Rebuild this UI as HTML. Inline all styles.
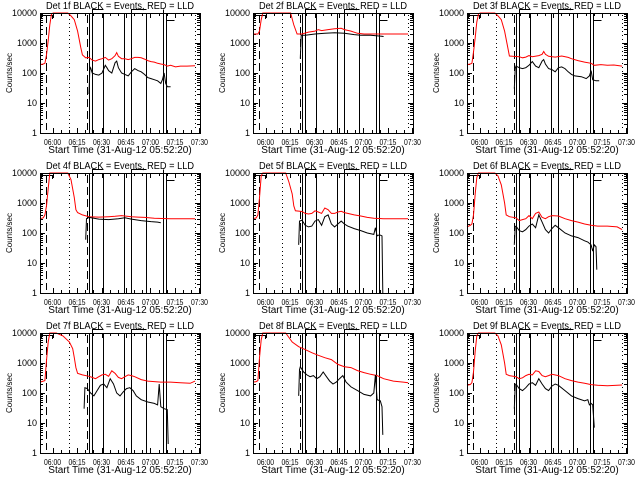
<!DOCTYPE html>
<html><head><meta charset="utf-8"><style>
html,body{margin:0;padding:0;background:#fff;}
svg{display:block;font-family:"Liberation Sans",sans-serif;}
</style></head><body>
<svg id="chart" width="640" height="480" viewBox="0 0 640 480"></svg>
<script>
const detNames = ["1f","2f","3f","4f","5f","6f","7f","8f","9f"];
const yTickValues = [1,10,100,1000,10000];
const yTickLabels = ["1","10","100","1000","10000"];
const xTickMinutes = [7.67,22.67,37.67,52.67,67.67,82.67,97.67];
const xTickLabels = ["06:00","06:15","06:30","06:45","07:00","07:15","07:30"];
const dashedLines = [3.7,28.8];
const dottedLines = [17.8,95];
const solidLines = [30,31.9,38.6,51.5,55.7,64.9,75.3,77.2];
// red (LLD) series per panel: [minute, counts/sec]
const red1=[[0,190],[2,200],[3,210],[4,400],[5,1200],[6,4000],[7,9000],[8,10000],[17,10000],[19,8000],[21,6000],[23,2500],[25,700],[26,400],[28,320],[30,330],[32,270],[34,250],[36,280],[38,300],[40,330],[42,270],[44,300],[46,380],[47,480],[48,360],[50,300],[52,300],[54,280],[56,300],[58,330],[60,330],[62,320],[64,290],[66,260],[68,240],[70,230],[72,210],[74,200],[76,190],[78,170],[80,180],[83,160],[86,170],[90,170],[95,175]];
const blk1=[[30,20],[30.5,130],[31,150],[32,100],[34,90],[36,85],[38,100],[40,180],[41,150],[42,120],[44,100],[46,220],[47,250],[48,150],[50,100],[52,90],[54,80],[56,110],[58,140],[60,120],[62,110],[64,90],[66,70],[68,65],[70,60],[72,55],[74,45],[75,60],[76,100],[77,45],[78,35],[80,35]];
const red2=[[0,2000],[3,2000],[4,2500],[5,6000],[6,10000],[23,10000],[25,4000],[27,2000],[30,2000],[34,2300],[38,2500],[40,2800],[42,2600],[46,2800],[50,3000],[54,3100],[56,2800],[60,2500],[64,2100],[68,2000],[80,2000],[95,2000]];
const blk2=[[29,300],[29.5,1800],[32,1800],[38,2000],[44,2100],[50,2200],[56,2100],[62,1900],[66,1800],[72,1800],[78,1700],[80,1650]];
const red3=[[0,190],[2,200],[3,210],[4,500],[5,1500],[6,5000],[7,9000],[8,10000],[17,10000],[19,8000],[21,6000],[23,2500],[25,700],[26,370],[28,360],[32,350],[34,320],[36,340],[38,380],[40,350],[44,380],[46,420],[47,520],[48,420],[50,360],[54,340],[58,370],[62,330],[64,300],[68,260],[72,230],[76,210],[78,180],[82,190],[86,180],[90,185],[95,170]];
const blk3=[[29,30],[29.5,140],[30,170],[32,150],[34,140],[36,150],[38,180],[40,240],[42,170],[44,150],[46,250],[47,280],[48,200],[50,140],[52,130],[54,110],[56,150],[58,160],[60,140],[62,110],[64,90],[66,80],[70,75],[73,65],[75,80],[76,120],[77,60],[79,55],[81,55]];
const red4=[[0,300],[2,320],[3,400],[4,800],[5,3000],[6,10000],[17,10000],[19,6000],[21,1500],[22,600],[23,480],[26,400],[30,350],[36,340],[42,350],[46,360],[50,380],[56,350],[60,340],[64,330],[70,310],[80,300],[95,300]];
const blk4=[[28,60],[28.5,300],[30,330],[36,290],[42,280],[48,300],[52,320],[56,290],[62,260],[68,240],[72,230],[74,220]];
const red5=[[0,300],[2,320],[3,400],[4,1500],[5,8000],[6,10000],[20,10000],[22,5000],[24,2000],[25,800],[26,550],[30,520],[32,450],[34,430],[36,450],[38,550],[40,500],[42,450],[44,680],[46,600],[48,450],[50,450],[52,500],[54,530],[56,480],[58,450],[62,400],[66,370],[70,330],[74,310],[80,300],[95,300]];
const blk5=[[28,40],[28.5,250],[30,270],[32,180],[34,160],[36,170],[38,250],[40,280],[42,180],[44,350],[46,400],[48,200],[50,160],[52,200],[54,250],[56,200],[58,170],[62,140],[66,120],[70,100],[74,90],[75,150],[76,80],[77,85],[78,85],[79,80],[79.5,1]];
const red6=[[0,160],[2,180],[3,200],[4,400],[5,2000],[6,7000],[7,10000],[17,10000],[19,8000],[21,4000],[23,1000],[24,400],[26,350],[30,320],[32,260],[34,280],[36,300],[38,380],[40,300],[42,450],[44,500],[46,330],[48,300],[50,350],[52,380],[56,370],[60,300],[64,260],[68,230],[72,200],[76,180],[80,170],[86,170],[92,160],[95,130]];
const blk6=[[29,40],[29.5,160],[30,170],[32,120],[34,110],[36,130],[38,170],[40,200],[42,150],[44,400],[46,230],[48,130],[50,100],[52,140],[54,180],[56,150],[60,100],[64,80],[68,70],[72,55],[74,50],[76,40],[77,25],[78,40],[79,35],[79.5,6]];
const red7=[[0,230],[2,250],[3,260],[4,1200],[5,5000],[6,10000],[10,10000],[14,8000],[18,5000],[20,3000],[21,1500],[22,700],[23,450],[26,400],[30,360],[32,330],[34,300],[36,350],[38,400],[40,420],[42,360],[44,550],[46,450],[48,330],[50,300],[52,350],[54,400],[56,380],[58,350],[62,280],[66,250],[70,240],[74,230],[80,230],[86,220],[92,210],[95,250]];
const blk7=[[27,30],[27.5,150],[29,140],[31,100],[33,80],[35,120],[37,180],[39,200],[41,150],[43,300],[45,200],[47,100],[49,80],[51,110],[53,140],[55,150],[57,120],[59,80],[62,60],[66,50],[70,45],[72,40],[73,200],[74,35],[76,30],[78,28],[78.5,2]];
const red8=[[0,230],[2,240],[3,260],[4,1500],[5,6000],[6,10000],[20,10000],[24,5000],[28,3500],[32,2800],[36,2200],[40,1800],[44,1500],[48,1300],[52,900],[56,750],[60,700],[64,560],[68,480],[72,420],[76,380],[80,300],[86,250],[92,230],[95,220]];
const blk8=[[28,80],[28.5,600],[29,750],[31,500],[33,400],[35,350],[37,380],[39,300],[41,350],[43,500],[45,350],[47,250],[49,200],[51,230],[53,300],[55,380],[57,230],[60,160],[64,120],[68,90],[72,80],[74,100],[75,400],[76,60],[78,55],[79,35],[79.5,4]];
const red9=[[0,180],[2,190],[3,220],[4,500],[5,2500],[6,8000],[7,10000],[17,10000],[19,8000],[21,4000],[23,1000],[24,420],[26,380],[30,350],[32,300],[34,320],[36,380],[38,420],[40,400],[42,550],[44,520],[46,380],[48,350],[50,380],[52,420],[56,380],[60,300],[64,260],[68,230],[72,210],[76,190],[80,180],[86,175],[92,180],[95,185]];
const blk9=[[29,30],[29.5,180],[30,200],[32,140],[34,120],[36,150],[38,200],[40,220],[42,180],[44,300],[46,200],[48,140],[50,120],[52,170],[54,200],[56,180],[60,120],[64,80],[68,65],[72,55],[74,60],[75,40],[76,45],[77,40],[78,7]];
const redSeries=[red1,red2,red3,red4,red5,red6,red7,red8,red9];
const blackSeries=[blk1,blk2,blk3,blk4,blk5,blk6,blk7,blk8,blk9];

const NS="http://www.w3.org/2000/svg";
const svg=document.getElementById("chart");
function mk(tag,attrs,parent){const e=document.createElementNS(NS,tag);for(const k in attrs)e.setAttribute(k,attrs[k]);parent.appendChild(e);return e;}
const PW=160,PH=120,TMAX=98;
const px=v=>Math.round(v)+0.5;
for(let p=0;p<9;p++){
  const col=p%3,row=Math.floor(p/3);
  const x0=[40,253,467][col],y0=13+row*160;
  const xs=t=>x0+t/TMAX*PW;
  const ys=v=>y0+PH-Math.log10(Math.max(v,1))*30;
  const g=mk("g",{},svg);
  
  
  const title=mk("text",{x:x0+80,y:y0-4,"font-size":"10","text-anchor":"middle",textLength:"148",lengthAdjust:"spacingAndGlyphs"},g);
  title.textContent="Det "+detNames[p]+" BLACK = Events, RED = LLD";
  
  
  const xl=mk("text",{x:x0+80,y:y0+PH+20,"font-size":"10","text-anchor":"middle"},g);
  xl.textContent="Start Time (31-Aug-12 05:52:20)";
  
  
  const yl=mk("text",{x:0,y:0,"font-size":"8","text-anchor":"middle",transform:`translate(${x0-28},${y0+60}) rotate(-90)`},g);
  yl.textContent="Counts/sec";
  
  
  const gs=mk("g",{"shape-rendering":"crispEdges"},g);
  yTickValues.forEach((v,i)=>{
    const y=px(ys(v));
    mk("line",{x1:x0,x2:x0+5,y1:y,y2:y,stroke:"#000"},gs);
    mk("line",{x1:x0+PW-5,x2:x0+PW,y1:y,y2:y,stroke:"#000"},gs);
    const t=mk("text",{x:x0-3,y:ys(v)+3,"font-size":"9","text-anchor":"end"},g);
    t.textContent=yTickLabels[i];
    
    
    if(v<10000)for(let m=2;m<10;m++){const ym=px(ys(v*m));
      mk("line",{x1:x0,x2:x0+3,y1:ym,y2:ym,stroke:"#000"},gs);
      mk("line",{x1:x0+PW-3,x2:x0+PW,y1:ym,y2:ym,stroke:"#000"},gs);}
  });
  xTickMinutes.forEach((m,i)=>{
    const x=px(xs(m));
    if(x<=x0+PW+0.5){
      mk("line",{x1:x,x2:x,y1:y0+PH,y2:y0+PH-5,stroke:"#000"},gs);
      mk("line",{x1:x,x2:x,y1:y0,y2:y0+5,stroke:"#000"},gs);}
    const t=mk("text",{x:Math.min(xs(m),x0+PW),y:y0+PH+12,"font-size":"8","text-anchor":"middle",textLength:"17",lengthAdjust:"spacingAndGlyphs"},g);
    t.textContent=xTickLabels[i];
    
    
    for(let k=1;k<3;k++){const xm=px(xs(m+k*5));if(xm<x0+PW){
      mk("line",{x1:xm,x2:xm,y1:y0+PH,y2:y0+PH-3,stroke:"#000"},gs);
      mk("line",{x1:xm,x2:xm,y1:y0,y2:y0+3,stroke:"#000"},gs);}}
  });
  dashedLines.forEach(m=>mk("line",{x1:px(xs(m)),x2:px(xs(m)),y1:y0+2,y2:y0+PH-3,stroke:"#000","stroke-dasharray":"8,4"},gs));
  dottedLines.forEach(m=>mk("line",{x1:px(xs(m)),x2:px(xs(m)),y1:y0+2,y2:y0+PH-3,stroke:"#000","stroke-dasharray":"1,3"},gs));
  solidLines.forEach(m=>mk("line",{x1:px(xs(m)),x2:px(xs(m)),y1:y0,y2:y0+PH,stroke:"#000"},gs));
  mk("path",{d:`M${x0+1.5} ${y0+5}V${y0}M${x0+1.5} ${y0+2.5}H${x0+12.5}V${y0+6}M${px(xs(77.2))} ${y0}V${y0+7.5}H${px(xs(77.2))+8}`,stroke:"#000",fill:"none"},gs);
  mk("path",{d:`M${px(xs(31.9))} ${y0}V${y0-3.5}H${px(xs(38.6))}M${px(xs(55.7))} ${y0}V${y0-3.5}H${px(xs(64.9))}M${px(xs(75.3))} ${y0}V${y0-3.5}`,stroke:"#000",fill:"none"},gs);
  const lineOf=d=>d.map((pt,i)=>(i?"L":"M")+xs(pt[0]).toFixed(1)+" "+ys(pt[1]).toFixed(1)).join("");
  const r=mk("path",{d:lineOf(redSeries[p]),stroke:"#ff0000",fill:"none","stroke-width":"1"},g);
  
  
  const b=mk("path",{d:lineOf(blackSeries[p]),stroke:"#000",fill:"none","stroke-width":"1"},g);
  
  
  const frame=mk("rect",{x:x0+0.5,y:y0+0.5,width:PW,height:PH,fill:"none",stroke:"#000","shape-rendering":"crispEdges"},g);
  
  
}
</script>
</body></html>
